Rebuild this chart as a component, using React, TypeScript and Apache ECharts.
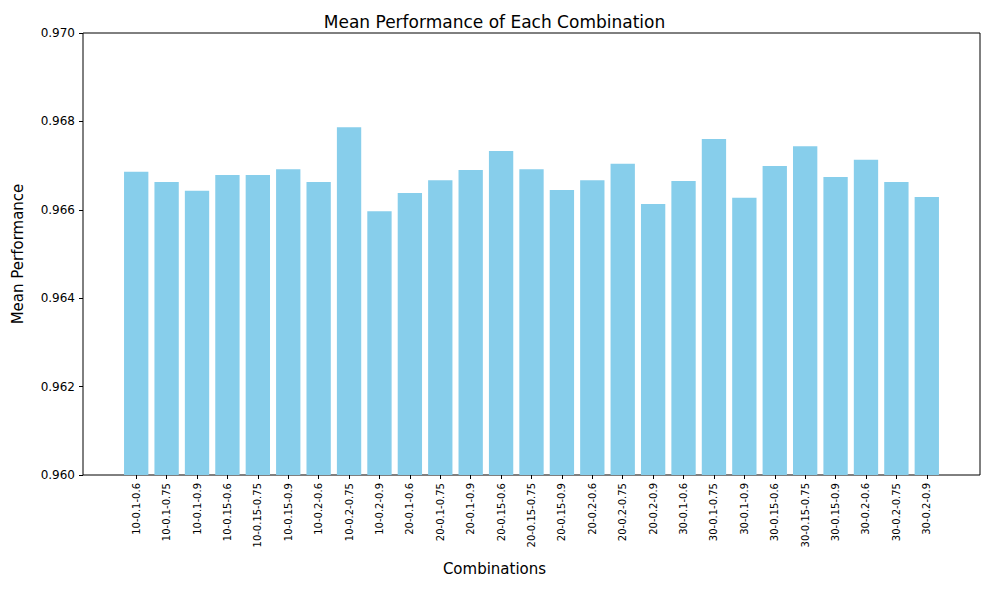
import { useEffect, useRef } from 'react';
import * as echarts from 'echarts';

const combinations = [
  '10-0.1-0.6', '10-0.1-0.75', '10-0.1-0.9', '10-0.15-0.6', '10-0.15-0.75', '10-0.15-0.9',
  '10-0.2-0.6', '10-0.2-0.75', '10-0.2-0.9', '20-0.1-0.6', '20-0.1-0.75', '20-0.1-0.9',
  '20-0.15-0.6', '20-0.15-0.75', '20-0.15-0.9', '20-0.2-0.6', '20-0.2-0.75', '20-0.2-0.9',
  '30-0.1-0.6', '30-0.1-0.75', '30-0.1-0.9', '30-0.15-0.6', '30-0.15-0.75', '30-0.15-0.9',
  '30-0.2-0.6', '30-0.2-0.75', '30-0.2-0.9',
];
const meanPerformance = [
  0.96686, 0.96663, 0.96643, 0.96679, 0.96679, 0.96692, 0.96663, 0.96787, 0.96597,
  0.96638, 0.96667, 0.9669, 0.96733, 0.96692, 0.96645, 0.96667, 0.96704, 0.96613,
  0.96665, 0.9676, 0.96627, 0.96699, 0.96744, 0.96674, 0.96713, 0.96663, 0.96629,
];
const yTicks = { min: 0.96, max: 0.97, interval: 0.002 };

export default function App() {
  const chartRef = useRef<HTMLDivElement>(null);

  useEffect(() => {
    if (!chartRef.current) return;
    const chart = echarts.init(chartRef.current, null, { renderer: 'svg' });
    const font = 'DejaVu Sans';
    chart.setOption({
      animation: false,
      textStyle: { fontFamily: font },
      title: {
        text: 'Mean Performance of Each Combination',
        left: 'center',
        top: 8,
        textStyle: { fontSize: 17, fontWeight: 'normal', color: '#000', fontFamily: font },
      },
      grid: [
        { left: 83, right: 9, top: 33, bottom: 115, show: true, borderColor: '#000', borderWidth: 1 },
        { left: 121, right: 47, top: 33, bottom: 115 },
      ],
      xAxis: [
        { gridIndex: 0, type: 'value', show: false },
        {
          gridIndex: 1,
          type: 'category',
          data: combinations,
          axisLine: { show: false },
          axisTick: { show: true, alignWithLabel: true, length: 4, lineStyle: { color: '#000' } },
          axisLabel: { rotate: 90, fontSize: 10, color: '#000', interval: 0, margin: 8 },
        },
      ],
      yAxis: [
        {
          gridIndex: 0,
          type: 'value',
          min: yTicks.min,
          max: yTicks.max,
          interval: yTicks.interval,
          name: 'Mean Performance',
          nameLocation: 'middle',
          nameGap: 58,
          nameTextStyle: { fontSize: 15, color: '#000' },
          axisLine: { show: false },
          axisTick: { show: true, length: 4, lineStyle: { color: '#000' } },
          splitLine: { show: false },
          axisLabel: { fontSize: 12, color: '#000', formatter: (v: number) => v.toFixed(3) },
        },
        { gridIndex: 1, type: 'value', min: yTicks.min, max: yTicks.max, show: false },
      ],
      graphic: [
        {
          type: 'text',
          left: 'center',
          top: 561,
          style: { text: 'Combinations', fontSize: 15, fill: '#000', fontFamily: font },
        },
      ],
      series: [
        {
          type: 'bar',
          xAxisIndex: 1,
          yAxisIndex: 1,
          barCategoryGap: '20%',
          itemStyle: { color: '#87CEEB' },
          data: meanPerformance,
        },
      ],
    });
    return () => chart.dispose();
  }, []);

  return (
    <div
      ref={chartRef}
      style={{ position: 'fixed', left: 0, top: 0, width: 989, height: 590, background: '#fff' }}
    />
  );
}
